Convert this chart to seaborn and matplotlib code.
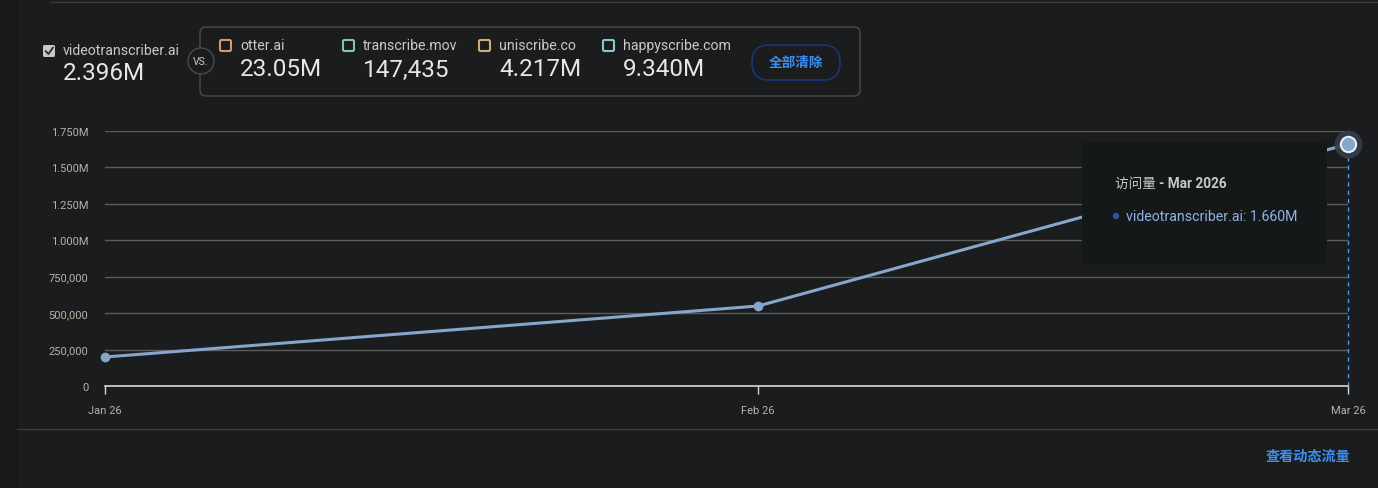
import matplotlib.pyplot as plt
import matplotlib.dates as mdates
import seaborn as sns
import pandas as pd
from matplotlib.patches import FancyBboxPatch, Rectangle, Circle
from matplotlib.ticker import FuncFormatter

# datos del gráfico
months = ['2026-01-01', '2026-02-01', '2026-03-01']
month_labels = ['Jan 26', 'Feb 26', 'Mar 26']
visits = [199000, 549000, 1660000]
yticks = [0, 250000, 500000, 750000, 1000000, 1250000, 1500000, 1750000]

main_site = 'videotranscriber.ai'
main_total = '2.396M'
rivals = ['otter.ai', 'transcribe.mov', 'uniscribe.co', 'happyscribe.com']
rival_totals = ['23.05M', '147,435', '4.217M', '9.340M']
rival_colors = ['#d49a76', '#86c4b2', '#cfae72', '#8ac6cf']

tooltip_title = '访问量'
tooltip_month = 'Mar 2026'

BG = '#1b1c1e'
TXT = '#c9c9c9'
TICK = '#b9b2a6'
LINE = '#87a6cc'
BLUE = '#3d8fef'
FONT = ['Roboto', 'Noto Sans CJK SC', 'DejaVu Sans']

sns.set_theme(style='dark')
plt.rcParams['font.family'] = FONT

df = pd.DataFrame({'month': pd.to_datetime(months), 'visits': visits})

W, H = 1378, 489
fig = plt.figure(figsize=(W / 100, H / 100), dpi=100)
fig.patch.set_facecolor(BG)

def fx(px):
    return px / W

def fy(py):
    return 1 - py / H

# franja lateral y líneas de separación
fig.add_artist(Rectangle((0, 0), fx(17), 1, transform=fig.transFigure, color='#17181a', zorder=0))
fig.add_artist(plt.Line2D([fx(50), 1], [fy(3), fy(3)], transform=fig.transFigure, color='#3a3b3d', lw=1))
fig.add_artist(plt.Line2D([fx(17), 1], [fy(430), fy(430)], transform=fig.transFigure, color='#3a3b3d', lw=1))

# cabecera
ax_top = fig.add_axes([0, 0, 1, 1])
ax_top.set_xlim(0, W)
ax_top.set_ylim(H, 0)
ax_top.axis('off')
ax_top.patch.set_alpha(0)
ax_top.set_zorder(10)

ax_top.add_patch(FancyBboxPatch((43, 46), 12, 12, boxstyle='round,pad=0,rounding_size=1.5',
                                facecolor='#c8c8c8', edgecolor='none'))
ax_top.plot([45.5, 48.5, 53], [52, 55, 48.5], color='#2a2b2d', lw=1.3, solid_capstyle='round')
ax_top.text(63, 51, main_site, color=TXT, fontsize=10.2, va='center')
ax_top.text(63, 74, main_total, color='#e6e6e6', fontsize=17.5, va='center')

ax_top.add_patch(FancyBboxPatch((200, 28), 660, 69, boxstyle='round,pad=0,rounding_size=6',
                                facecolor='none', edgecolor='#4a4b4d', lw=1))
ax_top.add_patch(Circle((201, 62), 13, facecolor=BG, edgecolor='#4a4b4d', lw=1))
ax_top.text(201, 62, 'VS.', color=TXT, fontsize=7.5, ha='center', va='center')

xs = [220, 343, 479, 603]
for x0, name, tot, col in zip(xs, rivals, rival_totals, rival_colors):
    ax_top.add_patch(FancyBboxPatch((x0, 41), 11, 11, boxstyle='round,pad=0,rounding_size=1.5',
                                    facecolor='none', edgecolor=col, lw=1.5))
    ax_top.text(x0 + 20, 46, name, color=TXT, fontsize=10.2, va='center')
    ax_top.text(x0 + 20, 70, tot, color='#e6e6e6', fontsize=17.5, va='center')

ax_top.add_patch(FancyBboxPatch((752, 46), 88, 35, boxstyle='round,pad=0,rounding_size=17',
                                facecolor='none', edgecolor='#173a8c', lw=1))
ax_top.text(796, 63, '全部清除', color=BLUE, fontsize=9.8, weight='bold', ha='center', va='center')
ax_top.text(1350, 457, '查看动态流量', color=BLUE, fontsize=10.2, weight='bold', ha='right', va='center')

# gráfico principal
ax = fig.add_axes([fx(105), fy(387), fx(1348) - fx(105), fy(132) - fy(387)])
ax.set_facecolor(BG)
ax.patch.set_alpha(0)
sns.lineplot(data=df, x='month', y='visits', ax=ax, color=LINE, lw=2.2,
             marker='o', markersize=7, markeredgewidth=0, clip_on=False, zorder=3)
last_x, last_y = df['month'].iloc[-1], df['visits'].iloc[-1]
ax.plot(last_x, last_y, 'o', ms=19, color='#363d48', alpha=0.9, clip_on=False, zorder=4)
ax.plot(last_x, last_y, 'o', ms=11, color=LINE, mec='#e8eef6', mew=1.5, clip_on=False, zorder=5)
ax.axvline(last_x, color='#4f96e6', lw=1, ls=(0, (3, 3)), zorder=2, clip_on=False)

ax.set_xlim(df['month'].iloc[0], df['month'].iloc[-1])
ax.set_ylim(0, yticks[-1])
ax.set_yticks(yticks)
ax.yaxis.set_major_formatter(FuncFormatter(lambda v, p: '0' if v == 0 else (f'{v / 1e6:.3f}M' if v >= 1e6 else f'{int(v):,}')))
ax.set_xticks(df['month'])
ax.set_xticklabels(month_labels)
ax.grid(axis='y', color='#5c5c5c', lw=1)
ax.grid(axis='x', visible=False)
for s in ['top', 'right', 'left']:
    ax.spines[s].set_visible(False)
ax.spines['bottom'].set_color('#d8d8d8')
ax.spines['bottom'].set_linewidth(1.2)
ax.tick_params(axis='x', colors=TICK, labelsize=8, length=6, width=1, pad=8, direction='out', bottom=True)
ax.tick_params(axis='x', color='#d8d8d8')
ax.tick_params(axis='y', colors=TICK, labelsize=8, length=0, pad=12)
ax.set_xlabel('')
ax.set_ylabel('')

# tooltip
ax_top.add_patch(FancyBboxPatch((1082, 143), 245, 122, boxstyle='round,pad=0,rounding_size=5',
                                facecolor='#151819', edgecolor='none', zorder=6))
t1 = ax_top.text(1115, 184, tooltip_title + ' ', color=TXT, fontsize=9.8, va='center', zorder=7)
ax_top.annotate('- ' + tooltip_month, xycoords=t1, xy=(1, 0.5), va='center', color=TXT, fontsize=9.8,
                weight='bold', zorder=7)
ax_top.add_patch(Circle((1116, 217), 2.5, color='#3d4f9a', zorder=7))
ax_top.text(1126, 217, f'{main_site}: {visits[-1] / 1e6:.3f}M', color='#8fb3e3', fontsize=10.2, va='center', zorder=7)

fig.savefig('out.png', dpi=100, facecolor=BG)
